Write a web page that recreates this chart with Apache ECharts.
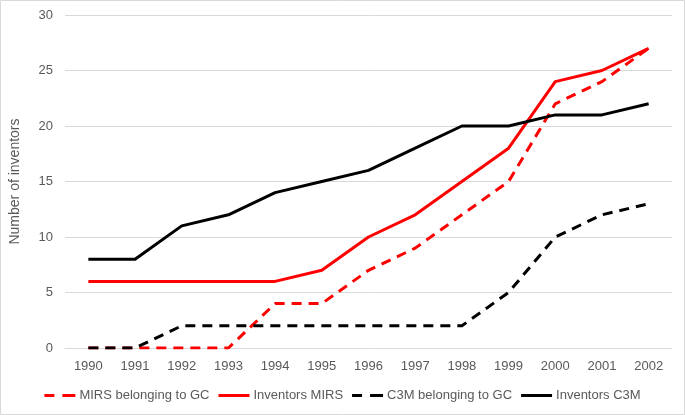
<!DOCTYPE html>
<html><head><meta charset="utf-8">
<script src="https://cdn.jsdelivr.net/npm/echarts@6/dist/echarts.min.js"></script>
<style>html,body{margin:0;padding:0;background:#fff}#c{width:685px;height:415px}</style>
</head><body><div id="c"></div>
<script>
const years = ['1990','1991','1992','1993','1994','1995','1996','1997','1998','1999','2000','2001','2002'];
const mirsGC = [0,0,0,0,4,4,7,9,12,15,22,24,27];
const invMIRS = [6,6,6,6,6,7,10,12,15,18,24,25,27];
const c3mGC = [0,0,2,2,2,2,2,2,2,5,10,12,13];
const invC3M = [8,8,11,12,14,15,16,18,20,20,21,21,22];
const seriesNames = ['MIRS belonging to GC','Inventors MIRS','C3M belonging to GC','Inventors C3M'];

const font = 'Liberation Sans, Arial, Helvetica, sans-serif';
const txt = '#595959';
const dashIcon = 'path://M0,0h10v3h-10z M18,0h13v3h-13z';
const solidIcon = 'path://M0,0h31v3h-31z';
const chart = echarts.init(document.getElementById('c'), null, {renderer:'canvas'});
function mk(name, data, color, dashed){
  return {name, type:'line', data, symbol:'none', smooth:false,
    lineStyle:{color, width:3, type: dashed ? [10,7] : 'solid', cap:'butt', join:'round'},
    itemStyle:{color}, emphasis:{disabled:true}, animation:false};
}
chart.setOption({
  animation:false,
  textStyle:{fontFamily:font},
  graphic:[{type:'rect', shape:{x:0.5,y:0.5,width:684,height:414}, style:{fill:'none',stroke:'#d9d9d9',lineWidth:1}, silent:true}],
  grid:{left:64, right:13, top:15, bottom:67},
  legend:{bottom:8, left:'center', itemWidth:31, itemHeight:3, itemGap:9,
    textStyle:{color:txt, fontSize:13, fontFamily:font, padding:[0,0,0,-1]},
    data:[
      {name:seriesNames[0], icon:dashIcon, itemStyle:{color:'#ff0000', borderWidth:0}},
      {name:seriesNames[1], icon:solidIcon, itemStyle:{color:'#ff0000', borderWidth:0}},
      {name:seriesNames[2], icon:dashIcon, itemStyle:{color:'#000000', borderWidth:0}},
      {name:seriesNames[3], icon:solidIcon, itemStyle:{color:'#000000', borderWidth:0}}
    ]},
  xAxis:{type:'category', data:years, boundaryGap:true,
    axisLine:{lineStyle:{color:'#d9d9d9'}}, axisTick:{show:false},
    axisLabel:{color:txt, fontSize:13, fontFamily:font, margin:12}},
  yAxis:{type:'value', min:0, max:30, interval:5,
    name:'Number of inventors', nameLocation:'middle', nameGap:43,
    nameTextStyle:{color:txt, fontSize:14, fontFamily:font},
    axisLine:{show:false}, axisTick:{show:false},
    splitLine:{lineStyle:{color:'#d9d9d9', width:1}},
    axisLabel:{color:txt, fontSize:13, fontFamily:font, margin:12}},
  series:[
    mk(seriesNames[0], mirsGC, '#ff0000', true),
    mk(seriesNames[1], invMIRS, '#ff0000', false),
    mk(seriesNames[2], c3mGC, '#000000', true),
    mk(seriesNames[3], invC3M, '#000000', false)
  ]
});
</script></body></html>
